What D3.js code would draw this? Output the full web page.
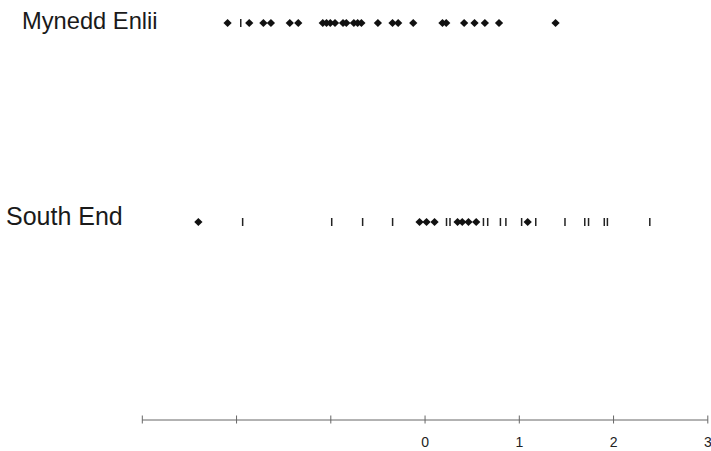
<!DOCTYPE html>
<html><head><meta charset="utf-8">
<script src="https://cdn.jsdelivr.net/npm/d3@7"></script>
<style>body{margin:0;background:#fff}svg{display:block}</style>
</head><body>
<script>
const categories = ["Mynedd Enlii", "South End"];
const diamondValues = [
  [-2.09, -1.86, -1.71, -1.63, -1.43, -1.34, -1.08, -1.04, -1.00, -0.95, -0.865, -0.83, -0.75, -0.71, -0.67, -0.495, -0.34, -0.28, -0.12, 0.19, 0.23, 0.42, 0.53, 0.64, 0.79, 1.39],
  [-2.40, -0.053, 0.021, 0.106, 0.35, 0.40, 0.466, 0.548, 1.094]
];
const tickValues = [
  [-1.95],
  [-1.93, -0.985, -0.657, -0.339, 0.233, 0.27, 0.625, 0.67, 0.805, 0.863, 1.03, 1.18, 1.49, 1.70, 1.74, 1.907, 1.94, 2.39]
];
const axisTicks = [-3, -2, -1, 0, 1, 2, 3];
const axisLabels = ["", "", "", "0", "1", "2", "3"];

const W = 711, H = 451;
const svg = d3.select("body").append("svg").attr("width", W).attr("height", H);
const x = d3.scaleLinear().domain([-3, 3]).range([141.8, 707.3]);
const y = d3.scalePoint().domain(categories).range([23, 222]);

// row labels
svg.selectAll("text.cat").data(categories).enter().append("text")
  .attr("class", "cat")
  .attr("x", (d, i) => i === 0 ? 22 : 6)
  .attr("y", (d, i) => y(d) + (i === 0 ? 6 : 2.5))
  .attr("font-family", "Liberation Sans, Arial, sans-serif")
  .attr("font-size", (d, i) => i === 0 ? 23.7 : 25)
  .attr("fill", "#1a1a1a")
  .text(d => d);

const diamond = d3.symbol().type(d3.symbolSquare).size(34);
categories.forEach((c, i) => {
  svg.append("g").selectAll("path").data(diamondValues[i]).enter().append("path")
    .attr("d", diamond)
    .attr("transform", d => `translate(${x(d)},${y(c)}) rotate(45)`)
    .attr("fill", "#111");
  svg.append("g").selectAll("line").data(tickValues[i]).enter().append("line")
    .attr("x1", d => x(d)).attr("x2", d => x(d))
    .attr("y1", y(c) - 4).attr("y2", y(c) + 4)
    .attr("stroke", "#222").attr("stroke-width", 1.5);
});

// axis
const axis = d3.axisBottom(x).tickValues(axisTicks)
  .tickFormat((d, i) => axisLabels[i]).tickSizeOuter(0).tickSizeInner(4);
const ag = svg.append("g").attr("transform", "translate(0,419.5)").call(axis);
ag.select(".domain").attr("stroke", "#666");
ag.selectAll(".tick line").attr("y1", -4).attr("y2", 4).attr("stroke", "#666");
ag.selectAll(".tick text").attr("y", 18).attr("dy", "0.71em")
  .attr("font-family", "Liberation Sans, Arial, sans-serif")
  .attr("font-size", 14).attr("fill", "#222");
</script>
</body></html>
